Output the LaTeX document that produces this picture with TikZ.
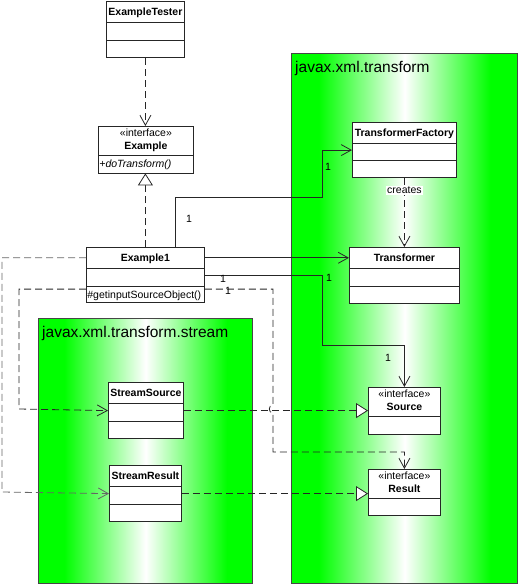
\documentclass[tikz,border=0pt]{standalone}
\usepackage{fontspec}
\setmainfont{Liberation Sans}
\usetikzlibrary{arrows.meta, shapes.multipart}
\definecolor{PkgGreen}{RGB}{0, 255, 0}
\definecolor{LineGrey}{RGB}{70, 70, 70}
\pgfdeclarehorizontalshading{pkgshade}{100bp}{color(0bp)=(PkgGreen); color(25bp)=(PkgGreen);
  color(31bp)=(PkgGreen); color(50bp)=(white); color(69bp)=(PkgGreen); color(75bp)=(PkgGreen);
  color(100bp)=(PkgGreen)}
\newcommand{\classfont}{\fontsize{10.5}{13}\selectfont}
\newcommand{\ctitle}[1]{\rule[-6pt]{0pt}{20pt}\textbf{#1}}
\newcommand{\cslot}{\rule{0pt}{17pt}}
\newcommand{\iface}[1]{\rule[-5pt]{0pt}{28pt}\begin{tabular}[b]{@{}c@{}}«interface»\\\textbf{#1}\end{tabular}}

\begin{document}
\begin{tikzpicture}[
  x=1pt, y=-1pt,
  package/.style={
    draw=LineGrey, line width=1.2pt, anchor=north west, inner sep=0pt,
    shading=pkgshade
  },
  pkgname/.style={anchor=west, inner sep=0pt, font=\fontsize{15.5}{18}\selectfont},
  umlclass/.style={
    rectangle split, rectangle split parts=3, anchor=north west,
    draw=black!85, fill=white, line width=0.8pt,
    inner xsep=1pt, inner ysep=0pt, font=\classfont
  },
  umliface/.style={umlclass, rectangle split parts=2},
  depend/.style={draw=black!85, line width=0.8pt, dash pattern=on 7pt off 4pt,
    -{Straight Barb[length=10pt, width=11pt]}},
  realize/.style={draw=black!85, line width=0.8pt, dash pattern=on 7pt off 4pt,
    -{Triangle[length=12pt, width=15pt, fill=white]}},
  assoc/.style={draw=black!85, line width=0.8pt, -{Straight Barb[length=10pt, width=11pt]}},
  mult/.style={inner sep=0pt, font=\classfont},
]
\useasboundingbox (0,0) rectangle (519,584);

% packages
\node[package, minimum width=226pt, minimum height=530pt] (pkgtrans) at (291,53) {};
\node[pkgname] (pkgtransname) at (295,68) {javax.xml.transform};
\node[package, minimum width=214pt, minimum height=265pt] (pkgstream) at (38,318) {};
\node[pkgname] (pkgstreamname) at (42,333) {javax.xml.transform.stream};

% classes
\node[umlclass, minimum width=78pt] (tester) at (106,1)
  {\ctitle{ExampleTester}\nodepart{two}\cslot\nodepart{three}\cslot};
\node[umliface, minimum width=95pt, rectangle split part align={center,left}] (example) at (98,126)
  {\iface{Example}\nodepart{two}\rule[-5pt]{0pt}{17pt}\textit{+doTransform()}};
\node[umlclass, minimum width=118pt, rectangle split part align={center,center,left}] (example1) at (86,247)
  {\ctitle{Example1}\nodepart{two}\cslot\nodepart{three}\rule[-4pt]{0pt}{16pt}\#getinputSourceObject()};
\node[umlclass, minimum width=104pt] (factory) at (352,122)
  {\ctitle{TransformerFactory}\nodepart{two}\rule{0pt}{16pt}\nodepart{three}\cslot};
\node[umlclass, minimum width=110pt] (transformer) at (349,247)
  {\ctitle{Transformer}\nodepart{two}\cslot\nodepart{three}\cslot};
\node[umliface, minimum width=72pt] (source) at (368,387)
  {\iface{Source}\nodepart{two}\cslot};
\node[umliface, minimum width=72pt] (result) at (368,469)
  {\iface{Result}\nodepart{two}\rule{0pt}{16pt}};
\node[umlclass, minimum width=75pt] (streamsource) at (108,382)
  {\ctitle{StreamSource}\nodepart{two}\cslot\nodepart{three}\cslot};
\node[umlclass, minimum width=72pt] (streamresult) at (109,465)
  {\ctitle{StreamResult}\nodepart{two}\cslot\nodepart{three}\cslot};

% bends
\coordinate (bendA) at (322,197);
\coordinate (bendB) at (322,345);
\coordinate (loopA) at (19,409);
\coordinate (loopB) at (273,452);
\coordinate (loopC) at (2,492);
\coordinate (hopTop) at (273,405);
\coordinate (hopBot) at (273,413);

% connectors
\draw[depend] (tester.south) -- (tester.south |- example.north);
\draw[realize] (example1.north) -- (example1.north |- example.south);
\draw[assoc] ([xshift=30pt]example1.north) |- (bendA) |- (factory.west);
\draw[assoc] (example1.text east) -- (example1.text east -| transformer.west);
\draw[assoc] (example1.east) -| (bendB) -| (source.north);
\draw[depend] (factory.south) -- node[pos=0.18, fill=white, inner sep=1pt, font=\classfont] (createslbl) {creates}
  (factory.south |- transformer.north);
\draw[depend] ([yshift=-14pt]example1.west) -| (loopA) -- (streamsource.west);
\draw[depend] ([yshift=-14pt]example1.east) -| (hopTop) to[out=180, in=180, looseness=1.6] (hopBot)
  -- (loopB) -| (result.north);
\draw[depend, draw=black!60] (example1.text west) -| (loopC) -- (streamresult.west);
\draw[realize] (streamsource.east) -- (streamsource.east -| source.west);
\draw[realize] (streamresult.east) -- (streamresult.east -| result.west);

% multiplicities
\node[mult] (multA) at (189,219) {1};
\node[mult] (multB) at (328,167) {1};
\node[mult] (multC) at (223,279) {1};
\node[mult] (multD) at (329,278) {1};
\node[mult] (multE) at (228,291) {1};
\node[mult] (multF) at (388,358) {1};
\end{tikzpicture}
\end{document}
